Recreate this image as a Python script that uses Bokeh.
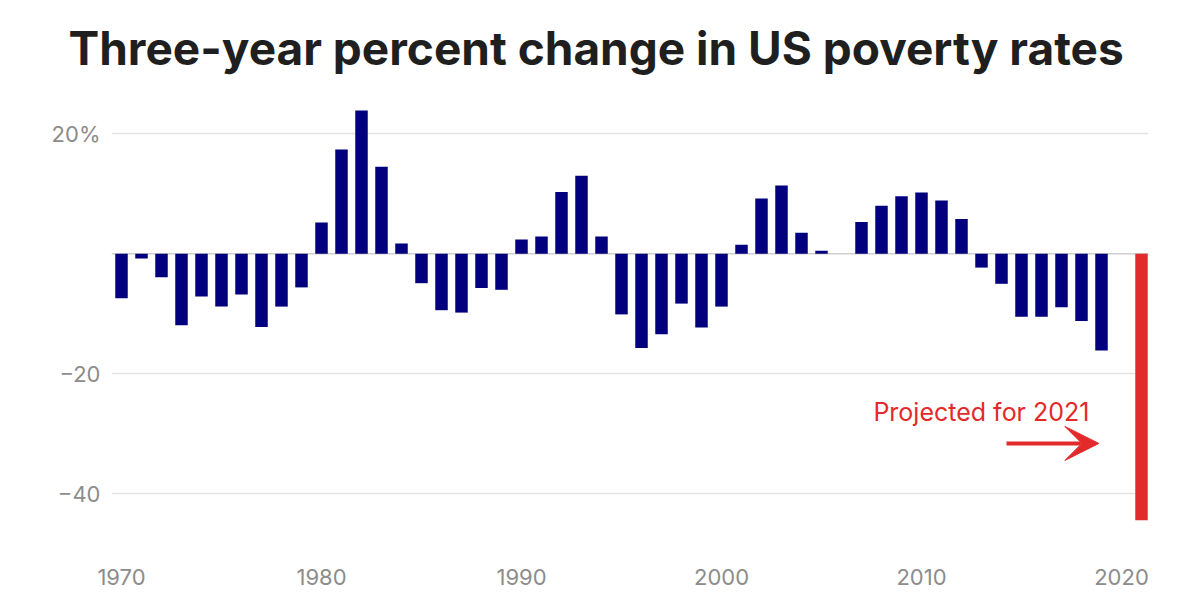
from bokeh.plotting import figure
from bokeh.models import FixedTicker, Span, Label, Arrow, VeeHead, ColumnDataSource, Range1d, Title
from bokeh.embed import file_html
from bokeh.resources import INLINE

# ---- data ----
years = list(range(1970, 2020))
changes = [-7.4, -0.8, -3.9, -11.9, -7.1, -8.8, -6.8, -12.2, -8.8, -5.6,
           5.2, 17.4, 23.9, 14.5, 1.7, -4.9, -9.4, -9.8, -5.7, -6.0,
           2.4, 2.9, 10.3, 13.0, 2.9, -10.1, -15.7, -13.4, -8.3, -12.3,
           -8.8, 1.5, 9.2, 11.4, 3.5, 0.5, 0.0, 5.3, 8.0, 9.6,
           10.2, 8.9, 5.8, -2.3, -5.0, -10.5, -10.5, -8.9, -11.2, -16.1]
proj_years = [2021]
proj_changes = [-44.4]
x_ticks = [1970, 1980, 1990, 2000, 2010, 2020]
y_ticks = [-40, -20, 20]
y_tick_labels = {-40: "\u221240", -20: "\u221220", 20: "20%"}
title_text = "Three-year percent change in US poverty rates"
note_text = "Projected for 2021"

NAVY = "#02007d"
RED = "#e32a2a"
GREY = "#8c8c8c"

p = figure(width=1184, height=592, output_backend="svg", toolbar_location=None,
           x_range=Range1d(1969.5, 2021.35), y_range=Range1d(-47.78, 26.38),
           min_border_left=111, min_border_right=36, min_border_top=95, min_border_bottom=52)
p.outline_line_color = None
p.background_fill_color = "white"
p.border_fill_color = "white"

p.title = Title(text=title_text, align="left", offset=-43, standoff=36, vertical_align="top",
                text_font="Inter", text_font_style="bold", text_font_size="46px",
                text_color="#1f1f1f")

src = ColumnDataSource(dict(x=years, top=changes))
p.vbar(x="x", top="top", bottom=0, width=0.625, source=src, fill_color=NAVY, line_color=None)
src2 = ColumnDataSource(dict(x=proj_years, top=proj_changes))
p.vbar(x="x", top="top", bottom=0, width=0.625, source=src2, fill_color=RED, line_color=None)

p.xgrid.grid_line_color = None
p.ygrid.ticker = FixedTicker(ticks=y_ticks)
p.ygrid.grid_line_color = "#e3e3e3"
p.ygrid.grid_line_width = 1.5

zero = Span(location=0, dimension="width", line_color="#cfcfcf", line_width=1.5, level="underlay")
p.add_layout(zero)

p.yaxis.ticker = FixedTicker(ticks=y_ticks)
p.yaxis.major_label_overrides = y_tick_labels
p.xaxis.ticker = FixedTicker(ticks=x_ticks)
for ax in (p.xaxis, p.yaxis):
    ax.axis_line_color = None
    ax.major_tick_line_color = None
    ax.minor_tick_line_color = None
    ax.major_label_text_color = GREY
    ax.major_label_text_font = "Inter"
    ax.major_label_text_font_size = "22px"
p.yaxis.major_label_standoff = 5
p.xaxis.major_label_standoff = 22

note = Label(x=2018.4, y=-26.3, text=note_text, text_font="Inter", text_font_size="25px",
             text_color=RED, text_align="right", text_baseline="alphabetic")
p.add_layout(note)

arrow = Arrow(x_start=2014.25, y_start=-31.6, x_end=2018.87, y_end=-31.6,
              line_color=RED, line_width=4,
              end=VeeHead(size=34, fill_color=RED, line_color=RED, line_width=1))
p.add_layout(arrow)

open("out.html", "w").write(file_html(p, INLINE))
